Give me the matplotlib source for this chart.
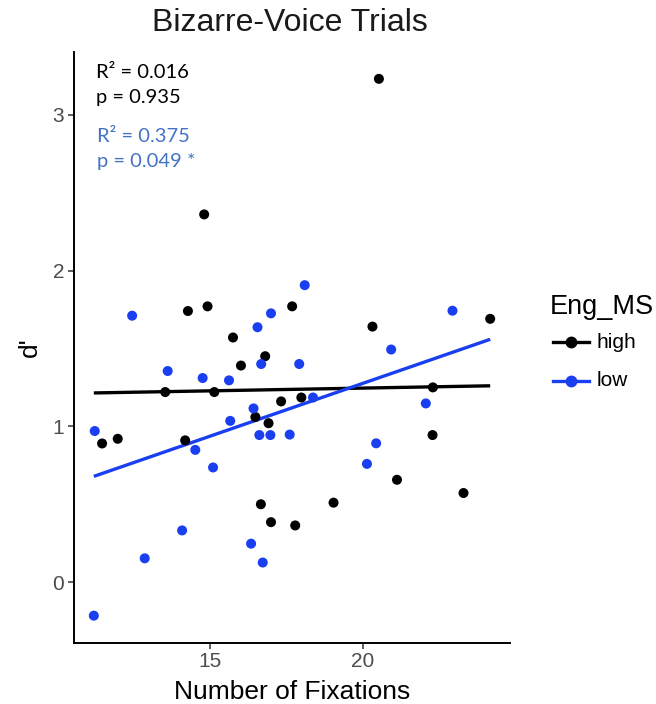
import numpy as np
import matplotlib
matplotlib.use("Agg")
import matplotlib.pyplot as plt
from matplotlib.lines import Line2D

# ---- data ----
high_x = [20.52, 14.82, 14.29, 14.93, 17.69, 15.76, 16.81, 16.02, 13.55, 15.15,
          17.33, 17.99, 20.31, 24.15, 22.28, 11.49, 12.00, 14.20, 16.49, 16.92,
          16.67, 17.00, 17.79, 19.04, 21.11, 22.27, 23.28]
high_y = [3.23, 2.36, 1.74, 1.77, 1.77, 1.57, 1.45, 1.39, 1.22, 1.22,
          1.16, 1.185, 1.64, 1.69, 1.25, 0.89, 0.92, 0.91, 1.06, 1.02,
          0.50, 0.385, 0.364, 0.51, 0.657, 0.944, 0.572]
low_x = [12.47, 17.00, 16.56, 13.63, 14.77, 15.63, 16.68, 16.43, 15.67, 18.10,
         22.92, 17.92, 20.92, 18.37, 22.05, 11.25, 14.53, 15.11, 16.62, 16.98,
         17.61, 14.10, 12.88, 16.35, 16.73, 11.22, 20.43, 20.13]
low_y = [1.71, 1.725, 1.636, 1.355, 1.31, 1.295, 1.40, 1.115, 1.035, 1.906,
         1.742, 1.40, 1.493, 1.185, 1.147, 0.97, 0.849, 0.736, 0.944, 0.944,
         0.947, 0.332, 0.153, 0.247, 0.126, -0.215, 0.891, 0.759]
groups = ["high", "low"]
x_ticks = [15, 20]
y_ticks = [0, 1, 2, 3]
stats_high = ["R² = 0.016", "p = 0.935"]
stats_low = ["R² = 0.375", "p = 0.049 *"]

# ---- style ----
FONT = "Liberation Sans"
c_high = "#000000"
c_low = "#1A3FF0"
c_text_low = "#4472C4"
tick_col = "#4D4D4D"

fig = plt.figure(figsize=(6.56, 7.04), dpi=100)
W, H = 656, 704
L, R, T, B = 74, 510, 52, 642.5
ax = fig.add_axes([L / W, 1 - B / H, (R - L) / W, (B - T) / H])

all_x = np.array(high_x + low_x)
xr = np.array([all_x.min(), all_x.max()])

colors = [c_high, c_low]
for gx, gy, col in [(high_x, high_y, c_high), (low_x, low_y, c_low)]:
    ax.scatter(gx, gy, s=52, color=col, edgecolors="none", zorder=3)
    k, b0 = np.polyfit(gx, gy, 1)
    ax.plot(xr, k * xr + b0, color=col, lw=2.4, zorder=2, solid_capstyle="butt")

ax.margins(x=0.05, y=0.05)
ax.set_xticks(x_ticks)
ax.set_yticks(y_ticks)
ax.set_xticklabels([str(t) for t in x_ticks], fontsize=15, color=tick_col, family=FONT)
ax.set_yticklabels([str(t) for t in y_ticks], fontsize=15, color=tick_col, family=FONT)
ax.tick_params(length=4, width=1.1, color="#333333", pad=3)
for s in ["top", "right"]:
    ax.spines[s].set_visible(False)
for s in ["left", "bottom"]:
    ax.spines[s].set_linewidth(1.4)
    ax.spines[s].set_color("black")

ax.set_xlabel("Number of Fixations", fontsize=19, family=FONT, labelpad=6)
ax.set_ylabel("d'", fontsize=19, family=FONT, labelpad=8)
fig.text(290 / W, 1 - 23 / H, "Bizarre-Voice Trials", fontsize=23, family=FONT,
         ha="center", va="center", color="#1a1a1a")

# stats annotations
ANN = "Lato"
fig.text(96 / W, 1 - 72 / H, stats_high[0], fontsize=14.5, family=ANN, color="black", va="center")
fig.text(96 / W, 1 - 98 / H, stats_high[1], fontsize=14.5, family=ANN, color="black", va="center")
fig.text(97 / W, 1 - 136 / H, stats_low[0], fontsize=14.5, family=ANN, color=c_text_low, va="center")
fig.text(97 / W, 1 - 162 / H, stats_low[1], fontsize=14.5, family=ANN, color=c_text_low, va="center")

# legend (drawn in figure pixel positions)
fig.text(550 / W, 1 - 307 / H, "Eng_MS", fontsize=19.5, family=FONT, va="center", ha="left")
for i, (lab, col) in enumerate(zip(groups, colors)):
    yy = 1 - (342 + 39 * i) / H
    x0, x1 = 553 / W, 589 / W
    fig.add_artist(Line2D([x0, (x0 + x1) / 2, x1], [yy, yy, yy], color=col, lw=2.4,
                          marker="o", markersize=7.5, markevery=[1],
                          transform=fig.transFigure))
    fig.text(597 / W, yy, lab, fontsize=15, family=FONT, va="center", ha="left")

fig.savefig("out.png", dpi=100)
